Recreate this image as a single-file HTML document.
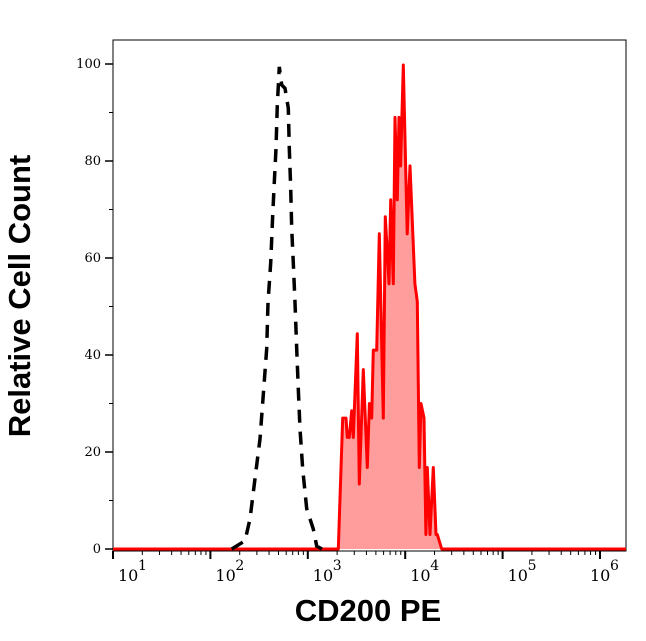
<!DOCTYPE html>
<html><head><meta charset="utf-8"><style>
html,body{margin:0;padding:0;background:#fff;width:646px;height:641px;overflow:hidden}
svg{display:block}
</style></head><body>
<svg id="chart" width="646" height="641" xmlns="http://www.w3.org/2000/svg">
<rect x="113" y="40" width="513" height="511" fill="none" stroke="#000" stroke-width="1"/>
<g id="axes"></g>
<g id="series"></g>
<text x="30" y="296" transform="rotate(-90 30 296)" text-anchor="middle" font-family="Liberation Sans, sans-serif" font-weight="bold" font-size="31">Relative Cell Count</text>
<text x="368" y="621" text-anchor="middle" font-family="Liberation Sans, sans-serif" font-weight="bold" font-size="31">CD200 PE</text>
</svg>
<script>
const yTicks=[0,20,40,60,80,100];
const xDecades=[1,2,3,4,5,6];
const redLog=[1.0,3.25,3.313,3.358,3.392,3.406,3.426,3.451,3.467,3.508,3.529,3.570,3.611,3.632,3.656,3.672,3.707,3.734,3.775,3.796,3.834,3.851,3.878,3.895,3.919,3.936,3.953,3.980,4.021,4.049,4.100,4.124,4.145,4.162,4.193,4.213,4.227,4.255,4.289,4.316,4.330,4.375,6.267];
const redVal=[0,0,0,27,27,23,23,28.5,23,44.4,13.4,37,16.8,30,27,41,41,65,27,68.5,54.7,72,54.7,89,72,89,79,99.8,65,79,54.7,51,16.8,30,27,3,16.8,3,16.8,3,3,0,0];
const blackLog=[2.219,2.355,2.407,2.458,2.509,2.540,2.578,2.591,2.619,2.640,2.653,2.674,2.687,2.707,2.732,2.766,2.800,2.810,2.824,2.835,2.851,2.869,2.886,2.902,2.920,2.948,2.989,3.056,3.091,3.146];
const blackVal=[0,1.7,6.2,14.5,22.7,31,41.3,50.8,59,68.8,74.4,82.6,91.5,99.4,95.7,95,90.9,82.6,74.4,66.1,59,50.8,41.3,33,24.8,16.5,8.3,4.1,0.6,0];

const NS='http://www.w3.org/2000/svg';
const X0=113,PX_DEC=97.4,Y0=549,PX_UNIT=4.85;
function xs(l){return X0+(l-1)*PX_DEC;}
function ys(v){return Y0-v*PX_UNIT;}
function mk(t,a,p){const e=document.createElementNS(NS,t);for(const k in a)e.setAttribute(k,a[k]);p.appendChild(e);return e;}
const axes=document.getElementById('axes'),ser=document.getElementById('series');
for(let v=0;v<=100;v+=10){
  const major=v%20===0;
  const t=mk('line',{x1:X0,x2:X0-(major?8:4),y1:ys(v),y2:ys(v),stroke:'#000','stroke-width':major?1.5:1},axes);
  
  
}
yTicks.forEach(v=>{
  const t=mk('text',{x:101,y:ys(v)+4,'text-anchor':'end','font-family':'DejaVu Serif, serif','font-size':13},axes);
  t.textContent=v;
  
  
});
for(let d=1;d<=6;d++){
  for(let m=1;m<=9;m++){
    const l=d+Math.log10(m);
    if(l>6.267)break;
    const x=xs(l);
    const t=mk('line',{x1:x,x2:x,y1:551,y2:551+(m===1?8:4),stroke:'#000','stroke-width':m===1?2:1},axes);
    
    
  }
}
xDecades.forEach(d=>{
  const g=mk('g',{},axes);
  
  
  const bx=xs(d)+(d===6?-10:5);
  const t=mk('text',{x:bx,y:581,'font-family':'DejaVu Serif, serif','font-size':16},g);
  t.textContent='10';
  const s=mk('text',{x:bx+20,y:570,'font-family':'DejaVu Serif, serif','font-size':14},g);
  s.textContent=d;
});
let pts=redLog.map((l,i)=>xs(l).toFixed(1)+','+ys(redVal[i]).toFixed(1));
const area=mk('polygon',{points:pts.join(' ')+' '+xs(6.267)+','+ys(0)+' '+xs(1)+','+ys(0),fill:'#ff9c9c',stroke:'none'},ser);


const red=mk('polyline',{points:pts.join(' '),fill:'none',stroke:'#ff0000','stroke-width':3,'stroke-linejoin':'round'},ser);


const bl=mk('polyline',{points:blackLog.map((l,i)=>xs(l).toFixed(1)+','+ys(blackVal[i]).toFixed(1)).join(' '),fill:'none',stroke:'#000','stroke-width':3.5,'stroke-dasharray':'13,9'},ser);


</script>
</body></html>
